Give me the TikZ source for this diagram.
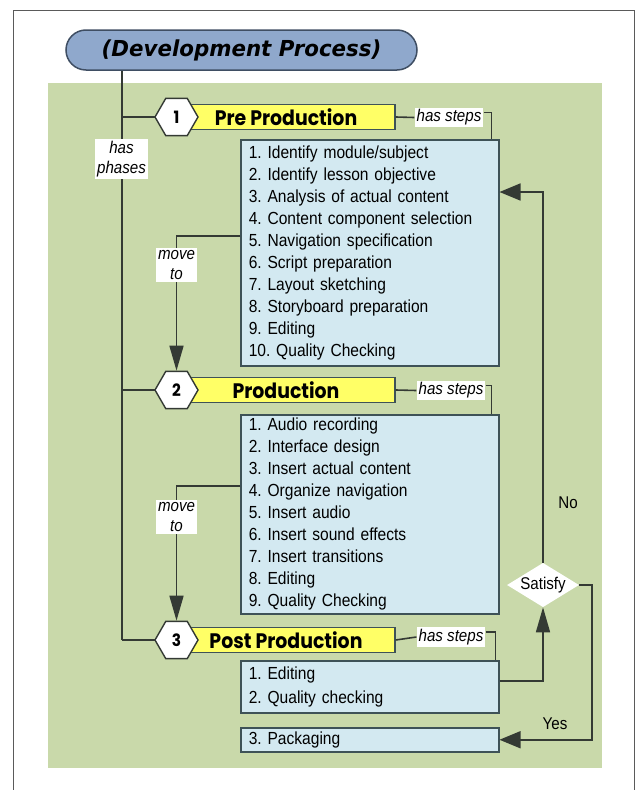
\documentclass[tikz,border=0pt]{standalone}
\usepackage{fontspec}
\setmainfont{Liberation Sans}
\newfontfamily\narrowfont[FakeStretch=0.89]{Liberation Sans}
\newfontfamily\titlefont[FakeStretch=0.97]{DejaVu Sans}
\newfontfamily\phasefont[FakeStretch=0.9]{Poppins}
\usetikzlibrary{arrows.meta,shapes.geometric,calc}
\definecolor{bggreen}{HTML}{C9D9AA}
\definecolor{boxblue}{HTML}{D3E9F1}
\definecolor{baryellow}{HTML}{FFFF66}
\definecolor{pillblue}{HTML}{8FA8CC}
\definecolor{linec}{HTML}{343A34}
\definecolor{boxline}{HTML}{3E5257}
\definecolor{pillline}{HTML}{3F4E63}
\definecolor{framec}{HTML}{5A5A5A}
\frenchspacing
\begin{document}
\begin{tikzpicture}[x=1pt,y=-1pt,
  conn/.style={draw=linec,line width=1.6pt},
  bigarrow/.style={-{Triangle[length=21pt,width=17pt]}},
  longarrow/.style={-{Triangle[length=25pt,width=14pt]}},
  pill/.style={draw=pillline,fill=pillblue,line width=1.5pt,rounded corners=20pt,
    minimum width=351pt,minimum height=40pt,inner sep=0pt,
    font=\titlefont\bfseries\itshape\fontsize{22}{24}\selectfont},
  hexnode/.style={regular polygon,regular polygon sides=6,minimum size=43pt,inner sep=0pt,
    draw=linec,fill=white,line width=1.4pt,font=\phasefont\bfseries\fontsize{17}{19}\selectfont},
  bar/.style={draw=boxline,fill=baryellow,line width=1.4pt,minimum width=218pt,minimum height=25pt,
    inner sep=0pt,font=\phasefont\bfseries\fontsize{21}{23}\selectfont},
  listbox/.style={draw=boxline,fill=boxblue,line width=1.5pt,anchor=north west,
    text width=242pt,inner xsep=8pt,inner ysep=0pt,align=left,
    font=\narrowfont\fontsize{17.5}{22}\selectfont},
  wlabel/.style={fill=white,inner xsep=2pt,inner ysep=2pt,align=center,
    font=\narrowfont\itshape\fontsize{17}{20}\selectfont},
  plain/.style={font=\narrowfont\fontsize{17}{19}\selectfont,inner sep=0pt}
]
\useasboundingbox (0,0) rectangle (636,790);
\fill[white] (0,0) rectangle (636,790);
\draw[framec,line width=1pt] (13,790) -- (13,10) -- (634,10) -- (634,790);
\fill[bggreen] (48,83) rectangle (602,768);

% title
\node[pill] (title) at (241.5,50) {(Development Process)};

% spine end
\coordinate (sp) at (122,640);

% bars (drawn before hexagons)
\node[bar] (bar1) at (286,117) {Pre Production};
\node[bar] (bar2) at (286,390) {Production};
\node[bar] (bar3) at (286,640) {Post Production};

% spine
\draw[conn] (title.south -| sp) -- (sp);
\draw[conn] (sp |- bar1) -- (bar1.west);
\draw[conn] (sp |- bar2) -- (bar2.west);
\draw[conn] (sp) -- (bar3.west);

% hexagons
\node[hexnode] (h1) at (176.5,117) {1};
\node[hexnode] (h2) at (176.5,390) {2};
\node[hexnode] (h3) at (176.5,640) {3};

% list boxes
\node[listbox,minimum height=226pt] (b1) at (240,139) {1. Identify module/subject\\
2. Identify lesson objective\\
3. Analysis of actual content\\
4. Content component selection\\
5. Navigation specification\\
6. Script preparation\\
7. Layout sketching\\
8. Storyboard preparation\\
9. Editing\\
10. Quality Checking};
\node[listbox,minimum height=199pt] (b2) at (240,414) {1. Audio recording\\
2. Interface design\\
3. Insert actual content\\
4. Organize navigation\\
5. Insert audio\\
6. Insert sound effects\\
7. Insert transitions\\
8. Editing\\
9. Quality Checking};
\node[listbox,minimum height=52pt,font=\narrowfont\fontsize{17.5}{23.5}\selectfont] (b3) at (240,660) {1. Editing\\
2. Quality checking};
\node[listbox,minimum height=24pt] (b4) at (240,727) {3. Packaging};

% has steps labels
\node[wlabel] (hs1) at (449,117.5) {has steps};
\node[wlabel] (hs2) at (451,390.5) {has steps};
\node[wlabel] (hs3) at (451,637) {has steps};
\draw[conn] (bar1.east) -- (hs1.west);
\draw[conn] (bar2.east) -- (hs2.west);
\draw[conn] (bar3.east) -- (hs3.west);
\draw[conn] ($(hs1.east)+(0,-5)$) -| ($(b1.north east)+(-8,0)$);
\draw[conn] ($(hs2.east)+(0,-5)$) -| ($(b2.north east)+(-8,0)$);
\draw[conn] ($(hs3.east)+(0,-5)$) -| ($(b3.north east)+(-4,0)$);

% move to connectors
\draw[conn,longarrow] ($(b1.north west)+(0,97)$) -| (h2.north);
\draw[conn,longarrow] ($(b2.north west)+(0,72)$) -| (h3.north);
\node[wlabel] (mv1) at (176.5,265) {move\\to};
\node[wlabel] (mv2) at (176.5,517) {move\\to};
\node[wlabel] (hp) at (121.5,159) {has\\phases};

% decision
\node[diamond,fill=white,aspect=1.6,minimum width=72pt,minimum height=44pt,inner sep=0pt,
  font=\narrowfont\fontsize{17}{19}\selectfont] (sat) at (543,585) {Satisfy};
\draw[conn,bigarrow] (sat.north) |- ($(b1.north east)+(0,53)$);
\draw[conn,longarrow] ($(b3.north east)+(0,21)$) -| (sat.south);
\draw[conn,bigarrow] (sat.east) -- ++(13,0) |- (b4.east);
\node[plain] (no) at (568,503) {No};
\node[plain] (yes) at (555,724) {Yes};
\end{tikzpicture}
\end{document}
